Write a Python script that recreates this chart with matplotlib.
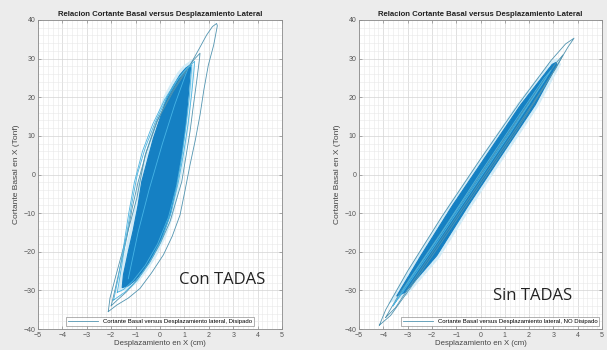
import numpy as np
import matplotlib.pyplot as plt
from matplotlib.ticker import MultipleLocator

plt.rcParams['font.family'] = ['Liberation Sans', 'DejaVu Sans']

# --- data: hysteresis loops (x in cm, y in Tonf) ---

# Con TADAS: dense core envelope
con_core_x = [-1.55, -1.5, -1.3, -1.1, -0.9, -0.75, -0.5, -0.27, 0.0, 0.27, 0.55, 0.82, 1.05, 1.23,
              1.25, 1.18, 1.09, 0.97, 0.82, 0.63, 0.41, 0.1, -0.27, -0.65, -1.0, -1.3, -1.55]
con_core_y = [-29.3, -26, -20, -14.5, -8, -1.9, 4, 9.4, 14.5, 19.7, 23, 25.8, 27.5, 28.3,
              27.5, 22, 15.4, 9, 2.5, -4, -10.5, -16, -20.8, -24.5, -27.3, -28.8, -29.3]

# Con TADAS: loops around the core
con_loop1_x = [-2.12, -2.05, -1.8, -1.5, -1.2, -0.95, -0.61, -0.14, 0.53, 1.23, 1.6, 1.91, 2.15, 2.32,
               2.35, 2.2, 1.98, 1.8, 1.64, 1.45, 1.23, 1.03, 0.82, 0.5, 0.14, -0.35, -0.82, -1.3, -1.77, -2.12]
con_loop1_y = [-35.5, -32, -26, -19, -12, -6.1, 5, 13.7, 21.4, 28.3, 32.5, 36.1, 38.3, 39.1,
               38.5, 33.5, 28.3, 22, 15.4, 9, 2.5, -4, -10.5, -16, -20.8, -25.5, -29.5, -32, -33.8, -35.5]
con_loop2_x = [-2.0, -1.85, -1.6, -1.35, -1.15, -0.9, -0.55, -0.1, 0.45, 1.0, 1.4, 1.64,
               1.62, 1.5, 1.35, 1.23, 1.06, 0.89, 0.41, 0.0, -0.41, -0.9, -1.36, -1.75, -2.0]
con_loop2_y = [-34, -30, -23, -16, -9, -2, 6, 14, 21, 26.5, 29.8, 31.4,
               30, 24, 17, 11.1, 4.5, -1.9, -12.2, -18, -22.6, -27, -30.3, -32.5, -34]
con_loop3_x = [-1.9, -1.72, -1.5, -1.28, -1.05, -0.72, -0.3, 0.2, 0.7, 1.1, 1.42,
               1.4, 1.3, 1.15, 0.98, 0.75, 0.45, 0.05, -0.45, -0.95, -1.45, -1.9]
con_loop3_y = [-32.5, -27, -19, -10, -2, 6, 13, 19.5, 24.5, 27.5, 29.3,
               27.5, 21, 13, 6, -2, -10, -17, -23, -27.5, -30.5, -32.5]
con_loop4_x = [-1.75, -1.58, -1.38, -1.17, -0.93, -0.6, -0.2, 0.3, 0.75, 1.1, 1.3,
               1.28, 1.2, 1.05, 0.9, 0.68, 0.35, -0.1, -0.6, -1.1, -1.5, -1.75]
con_loop4_y = [-30.5, -24, -16, -8, 0, 7, 13.5, 20, 24.8, 27.5, 28.3,
               26.5, 20, 12, 5, -3, -11, -18, -23.5, -27.5, -29.8, -30.5]
con_inner_x = [-1.3, -0.9, -0.45, 0.1, 0.6, 1.0, 1.15]
con_inner_y = [-27, -15, -4, 8, 18, 25, 27.5]

# Sin TADAS: dense core envelope
sin_core_x = [-3.45, -2.45, -1.15, 0.25, 1.65, 2.95, 3.1,
              3.15, 2.25, 0.87, -0.5, -1.8, -3.1, -3.45]
sin_core_y = [-31.5, -21, -8, 5, 18, 28.5, 29,
              28.5, 18, 5, -8, -21, -30.5, -31.5]

# Sin TADAS: loops around the core
sin_loop1_x = [-4.16, -3.9, -3.0, -1.6, 0.0, 1.6, 2.9, 3.5, 3.85,
               3.6, 2.85, 1.5, -0.1, -1.6, -2.9, -3.7, -4.16]
sin_loop1_y = [-39.0, -35, -25, -11, 4, 18.5, 29.5, 33.8, 35.3,
               33, 25, 11.5, -3.5, -17.5, -29.5, -36.5, -39.0]
sin_loop2_x = [-3.9, -3.3, -2.1, -0.6, 0.9, 2.3, 3.1, 3.4,
               3.1, 1.9, 0.4, -1.1, -2.5, -3.5, -3.9]
sin_loop2_y = [-37, -30.5, -19.5, -5.5, 8.5, 21.5, 28.8, 31,
               27.5, 16, 2, -12, -25, -34.5, -37]
sin_loop3_x = [-3.6, -2.9, -1.6, 0.0, 1.6, 2.6, 2.9,
               2.55, 1.2, -0.4, -2.0, -3.2, -3.6]
sin_loop3_y = [-34, -27, -15, 0.5, 15.5, 24.8, 27,
               23.5, 10.5, -4.5, -19.5, -30.5, -34]
sin_inner_x = [-3.2, -1.8, -0.3, 1.2, 2.7]
sin_inner_y = [-30, -17, -3, 11, 25]

TITLE = 'Relacion Cortante Basal versus Desplazamiento Lateral'
XLABEL = 'Desplazamiento en X (cm)'
YLABEL = 'Cortante Basal en X (Tonf)'

OUTER_C = '#5294b0'
INNER_C = '#4db3df'
CORE_C = '#1580c3'
FRINGE_C = '#d3ecf7'


def draw_panel(ax, core_x, core_y, loops, inner, legend_label, legend_loc, tag, tag_xy):
    ax.fill(core_x, core_y, facecolor=FRINGE_C, edgecolor=FRINGE_C, lw=5, zorder=2)
    ax.fill(core_x, core_y, facecolor=CORE_C, edgecolor=CORE_C, lw=0.8, zorder=3)
    ax.plot(inner[0], inner[1], color='#45b4e6', lw=0.6, zorder=4)
    for i, (lx, ly) in enumerate(loops):
        col = OUTER_C if i < 2 else INNER_C
        ax.plot(lx, ly, color=col, lw=0.6, zorder=4,
                label=legend_label if i == 0 else None)

    ax.set_xlim(-5, 5)
    ax.set_ylim(-40, 40)
    ax.xaxis.set_major_locator(MultipleLocator(1))
    ax.yaxis.set_major_locator(MultipleLocator(10))
    ax.xaxis.set_minor_locator(MultipleLocator(0.2))
    ax.yaxis.set_minor_locator(MultipleLocator(2))
    ax.grid(which='major', color='#d3d3d3', lw=0.5, zorder=0)
    ax.grid(which='minor', color='#e8e8e8', lw=0.4, zorder=0)
    ax.set_axisbelow(True)
    ax.tick_params(which='both', direction='in', labelsize=5, labelcolor='#555555',
                   color='#777777', length=2, width=0.4, pad=2, top=True, right=True)
    ax.tick_params(which='minor', length=0)
    for s in ax.spines.values():
        s.set_color('#8a8a8a')
        s.set_linewidth(0.6)

    ax.set_title(TITLE, fontsize=5.6, fontweight='bold', pad=3, color='#222222')
    ax.set_xlabel(XLABEL, fontsize=5.6, color='#444444', labelpad=1)
    ax.set_ylabel(YLABEL, fontsize=6, color='#444444', labelpad=2)

    leg = ax.legend(loc=legend_loc, fontsize=4.3, frameon=True, fancybox=False,
                    handlelength=5, borderaxespad=0.5, borderpad=0.3)
    leg.get_frame().set_edgecolor('#777777')
    leg.get_frame().set_linewidth(0.5)

    ax.text(tag_xy[0], tag_xy[1], tag, fontsize=12, family='Open Sans',
            color='#222222', ha='center', va='center', zorder=6)


fig = plt.figure(figsize=(6.07, 3.5), dpi=100)
fig.patch.set_facecolor('#ececec')

ax1 = fig.add_axes([38 / 607, 21 / 350, 244 / 607, 309 / 350])
ax2 = fig.add_axes([359 / 607, 21 / 350, 243 / 607, 309 / 350])

draw_panel(ax1, con_core_x, con_core_y,
           [(con_loop1_x, con_loop1_y), (con_loop2_x, con_loop2_y),
            (con_loop3_x, con_loop3_y), (con_loop4_x, con_loop4_y)],
           (con_inner_x, con_inner_y),
           'Cortante Basal versus Desplazamiento lateral, Disipado',
           'lower center', 'Con TADAS', (2.55, -27.3))

draw_panel(ax2, sin_core_x, sin_core_y,
           [(sin_loop1_x, sin_loop1_y), (sin_loop2_x, sin_loop2_y),
            (sin_loop3_x, sin_loop3_y)],
           (sin_inner_x, sin_inner_y),
           'Cortante Basal versus Desplazamiento lateral, NO Disipado',
           'lower right', 'Sin TADAS', (2.15, -31.5))

plt.savefig('out.png', dpi=100, facecolor=fig.get_facecolor())
